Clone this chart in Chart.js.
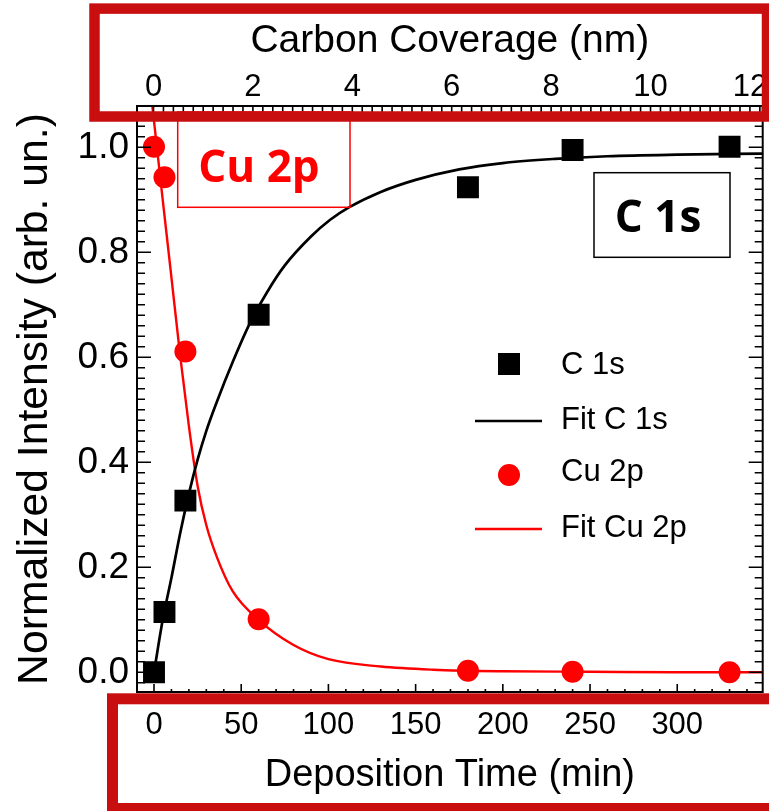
<!DOCTYPE html>
<html>
<head>
<meta charset="utf-8">
<script src="https://cdn.jsdelivr.net/npm/chart.js@4.4.0/dist/chart.umd.min.js"></script>
<style>
  html, body { margin: 0; padding: 0; background: #fff; }
  canvas { display: block; }
</style>
</head>
<body>
<canvas id="xpsChart" width="769" height="811"></canvas>
<script>
// measured XPS intensities
const depositionTime = [0, 6, 18, 60, 180, 240, 330];
const c1sIntensity = [0.0, 0.115, 0.327, 0.681, 0.924, 0.995, 1.001];
const cu2pIntensity = [1.001, 0.943, 0.611, 0.101, 0.003, 0.001, 0.0];

// fit curves
const c1sFitTime = [0, 5, 10, 15, 20, 25, 30, 36, 45, 55, 65, 75, 90, 101, 112, 130, 150, 175, 200, 230, 260, 300, 349];
const c1sFitValue = [0, 0.10, 0.18, 0.265, 0.34, 0.405, 0.46, 0.515, 0.59, 0.665, 0.725, 0.775, 0.83, 0.862, 0.886, 0.915, 0.938, 0.958, 0.970, 0.978, 0.983, 0.986, 0.988];
const cu2pFitTime = [-1, 0, 5, 10, 15, 20, 25, 30, 36, 45, 60, 80, 100, 130, 160, 200, 250, 300, 349];
const cu2pFitValue = [1.08, 1.05, 0.90, 0.752, 0.603, 0.469, 0.355, 0.28, 0.22, 0.155, 0.10, 0.052, 0.025, 0.011, 0.005, 0.002, 0.001, 0.0, 0.0];

// axis ticks
const timeTicks = [0, 50, 100, 150, 200, 250, 300];
const coverageTicks = [0, 2, 4, 6, 8, 10, 12];
const intensityTicks = [0, 0.2, 0.4, 0.6, 0.8, 1.0];

const seriesNames = ["C 1s", "Fit C 1s", "Cu 2p", "Fit Cu 2p"];

const RED = "#ff0000";
const BOX_RED = "#c80e0e";
const FONT = "'Liberation Sans', Arial, sans-serif";

function pairs(xs, ys) {
    return xs.map((x, i) => ({ x: x, y: ys[i] }));
}

// keep chart area fixed: no extra room for overhanging tick labels
function pinScale(s, size) {
    if (s.isHorizontal()) s.height = size; else s.width = size;
    s.paddingLeft = 0; s.paddingRight = 0;
    s.paddingTop = 0; s.paddingBottom = 0;
}

// inward ticks on all four sides + frame
const frameTicks = {
    id: "frameTicks",
    afterDatasetsDraw(chart) {
        const { ctx, chartArea: a, scales } = chart;
        ctx.save();
        ctx.strokeStyle = "#000";
        ctx.lineWidth = 1.6;
        ctx.beginPath();
        // left / right
        for (let i = -1; i <= 53; i++) {
            const py = scales.y.getPixelForValue(i * 0.02);
            if (py < a.top || py > a.bottom) continue;
            const len = (i % 10 === 0) ? 14 : 8;
            ctx.moveTo(a.left, py); ctx.lineTo(a.left + len, py);
            ctx.moveTo(a.right, py); ctx.lineTo(a.right - len, py);
        }
        // bottom
        for (let t = 0; t <= 340; t += 10) {
            const px = scales.x.getPixelForValue(t);
            const len = timeTicks.includes(t) ? 8 : 3;
            ctx.moveTo(px, a.bottom); ctx.lineTo(px, a.bottom - len);
        }
        // top
        for (let i = 0; i <= 61; i++) {
            const px = scales.x2.getPixelForValue(i * 0.2);
            if (px > a.right) continue;
            ctx.moveTo(px, a.top); ctx.lineTo(px, a.top + 6);
        }
        ctx.stroke();
        ctx.lineWidth = 2;
        ctx.strokeRect(a.left, a.top, a.right - a.left, a.bottom - a.top);
        ctx.restore();
    }
};

// legend, labels in boxes and the red frames
const overlays = {
    id: "overlays",
    afterDraw(chart) {
        const { ctx } = chart;
        const ds = chart.data.datasets;
        ctx.save();

        // legend
        const rowY = [364, 419, 471, 527];
        ctx.font = "31px " + FONT;
        ctx.textBaseline = "middle";
        ctx.textAlign = "left";
        ds.forEach((d, i) => {
            const y = rowY[i];
            if (d.showLine === false) {
                ctx.fillStyle = d.backgroundColor;
                if (d.pointStyle === "rect") {
                    ctx.fillRect(498, y - 7 - 4, 22, 22);
                } else {
                    ctx.beginPath();
                    ctx.arc(509, y + 4, 11, 0, Math.PI * 2);
                    ctx.fill();
                }
            } else {
                ctx.strokeStyle = d.borderColor;
                ctx.lineWidth = d.borderWidth;
                ctx.beginPath();
                ctx.moveTo(475, y + 2); ctx.lineTo(542, y + 2);
                ctx.stroke();
            }
            ctx.fillStyle = "#000";
            ctx.fillText(seriesNames[i], 561, y + 1);
        });

        // "Cu 2p" box
        ctx.strokeStyle = RED;
        ctx.lineWidth = 1.5;
        ctx.strokeRect(177.7, 112, 172.3, 95.3);
        ctx.fillStyle = RED;
        ctx.font = "bold 44px 'Open Sans', sans-serif";
        ctx.textAlign = "center";
        ctx.textBaseline = "alphabetic";
        ctx.fillText("Cu 2p", 259, 181.7);

        // "C 1s" box
        ctx.fillStyle = "#fff";
        ctx.fillRect(594, 172.7, 136, 84.6);
        ctx.strokeStyle = "#000";
        ctx.strokeRect(594, 172.7, 136, 84.6);
        ctx.fillStyle = "#000";
        ctx.fillText("C 1s", 658, 231.7);

        // thick red frames around the axis labels
        ctx.strokeStyle = BOX_RED;
        ctx.lineWidth = 10.5;
        ctx.strokeRect(94.5, 8.6, 672.5, 107.9);
        ctx.lineWidth = 11;
        ctx.strokeRect(112.5, 698.8, 670, 109.7);
        ctx.restore();
    }
};

new Chart(document.getElementById("xpsChart"), {
    data: {
        datasets: [
            {
                type: "scatter",
                label: "C 1s",
                data: pairs(depositionTime, c1sIntensity),
                showLine: false,
                pointStyle: "rect",
                pointRadius: 15.5,
                backgroundColor: "#000",
                borderWidth: 0,
                order: 1
            },
            {
                type: "line",
                label: "Fit C 1s",
                data: pairs(c1sFitTime, c1sFitValue),
                borderColor: "#000",
                borderWidth: 2.7,
                pointRadius: 0,
                cubicInterpolationMode: "monotone",
                fill: false,
                order: 3
            },
            {
                type: "scatter",
                label: "Cu 2p",
                data: pairs(depositionTime, cu2pIntensity),
                showLine: false,
                pointStyle: "circle",
                pointRadius: 11,
                backgroundColor: RED,
                borderWidth: 0,
                order: 2
            },
            {
                type: "line",
                label: "Fit Cu 2p",
                data: pairs(cu2pFitTime, cu2pFitValue),
                borderColor: RED,
                borderWidth: 2.4,
                pointRadius: 0,
                cubicInterpolationMode: "monotone",
                fill: false,
                order: 4
            }
        ]
    },
    options: {
        responsive: false,
        animation: false,
        layout: { autoPadding: false, padding: { left: 0, right: 6.3, top: 0, bottom: 0 } },
        plugins: {
            legend: { display: false },
            tooltip: { enabled: false }
        },
        scales: {
            x: {
                type: "linear",
                position: "bottom",
                min: -9.75,
                max: 349,
                afterBuildTicks: s => { s.ticks = timeTicks.map(v => ({ value: v })); },
                afterFit: s => pinScale(s, 119),
                grid: { display: false, drawTicks: false },
                border: { display: false },
                ticks: {
                    color: "#000",
                    font: { family: FONT, size: 31 },
                    padding: 14.7,
                    maxRotation: 0,
                    autoSkip: false
                },
                title: {
                    display: true,
                    text: "Deposition Time (min)",
                    color: "#000",
                    font: { family: FONT, size: 38 },
                    padding: { top: 0, bottom: 13 }
                }
            },
            x2: {
                type: "linear",
                axis: "x",
                position: "top",
                min: -0.332,
                max: 12.257,
                afterBuildTicks: s => { s.ticks = coverageTicks.map(v => ({ value: v })); },
                afterFit: s => pinScale(s, 106),
                grid: { display: false, drawTicks: false },
                border: { display: false },
                ticks: {
                    color: "#000",
                    font: { family: FONT, size: 31 },
                    padding: 0,
                    maxRotation: 0,
                    autoSkip: false
                },
                title: {
                    display: true,
                    text: "Carbon Coverage (nm)",
                    color: "#000",
                    font: { family: FONT, size: 39 },
                    padding: { top: 17.5, bottom: 0 }
                }
            },
            y: {
                type: "linear",
                position: "left",
                min: -0.0375,
                max: 1.0787,
                afterBuildTicks: s => { s.ticks = intensityTicks.map(v => ({ value: v })); },
                afterFit: s => pinScale(s, 137),
                grid: { display: false, drawTicks: false },
                border: { display: false },
                ticks: {
                    color: "#000",
                    font: { family: FONT, size: 37 },
                    padding: 8,
                    callback: v => v.toFixed(1)
                },
                title: {
                    display: true,
                    text: "Normalized Intensity (arb. un.)",
                    color: "#000",
                    font: { family: FONT, size: 42.7 },
                    padding: { top: 9.6, bottom: 0 }
                }
            }
        }
    },
    plugins: [frameTicks, overlays]
});
</script>
</body>
</html>
